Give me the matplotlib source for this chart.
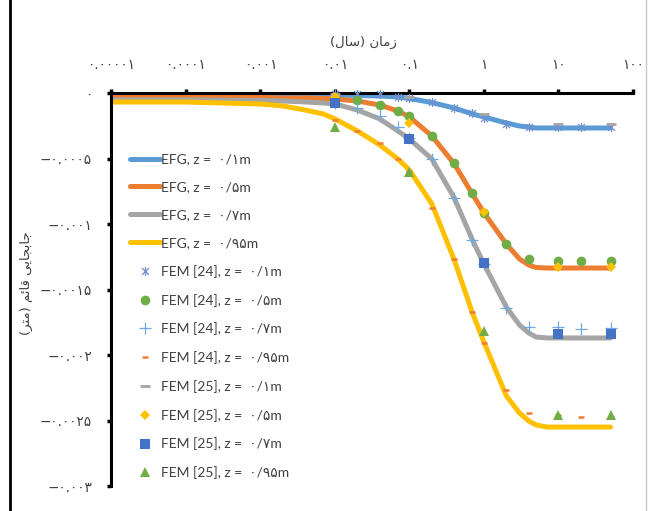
import numpy as np
import matplotlib
matplotlib.use("Agg")
import matplotlib.pyplot as plt
from matplotlib.path import Path
from matplotlib.lines import Line2D

plt.rcParams['font.family'] = ['Lato', 'DejaVu Sans']

# زمان (سال) -- EFG curves
t_efg = [1e-5, 1e-4, 1e-3, 0.002, 0.004, 0.007, 0.01, 0.02, 0.04, 0.07, 0.1,
         0.2, 0.4, 0.7, 1, 2, 3, 4, 5, 7, 10, 20, 50]
efg_01 = [-0.000015, -0.000015, -0.000015, -0.000015, -0.000015, -0.000015, -0.000015,
          -0.000019, -0.000023, -0.00003, -0.000042, -0.000073, -0.000115, -0.00016,
          -0.000183, -0.000229, -0.000252, -0.00026, -0.000267, -0.000267, -0.000267,
          -0.000267, -0.000267]
efg_05 = [-0.000034, -0.000034, -0.000034, -0.000038, -0.000038, -0.000042, -0.000046,
          -0.000061, -0.000092, -0.000137, -0.000183, -0.000328, -0.000542, -0.000771,
          -0.000916, -0.001153, -0.001267, -0.001313, -0.001332, -0.001336, -0.001336,
          -0.001336, -0.001336]
efg_07 = [-0.000053, -0.000053, -0.000057, -0.000061, -0.000069, -0.000076, -0.000084,
          -0.00013, -0.000198, -0.00029, -0.000351, -0.000504, -0.000802, -0.001122,
          -0.001305, -0.001634, -0.001771, -0.001832, -0.001863, -0.00187, -0.00187,
          -0.00187, -0.00187]
efg_095 = [-0.000069, -0.000069, -0.000084, -0.000099, -0.00013, -0.00016, -0.000198,
           -0.00029, -0.000397, -0.000504, -0.000588, -0.000847, -0.001275, -0.001679,
           -0.001901, -0.002313, -0.002443, -0.002504, -0.002534, -0.00255, -0.00255,
           -0.00255, -0.00255]

# FEM [24]
t_f24 = [0.01, 0.02, 0.04, 0.07, 0.1, 0.2, 0.4, 0.7, 1, 2, 4, 10, 20, 50]
f24_01 = [-0.000005, -0.000005, -0.000005, -0.00003, -0.000038, -0.000069, -0.000115,
          -0.000153, -0.000191, -0.000237, -0.00026, -0.00026, -0.00026, -0.00026]
f24_05 = [-0.00004, -0.000053, -0.000092, -0.000134, -0.000179, -0.000328, -0.000538,
          -0.000763, -0.000916, -0.00115, -0.00127, -0.00128, -0.00128, -0.00128]
f24_07 = [-0.000076, -0.000115, -0.000176, -0.00026, -0.000344, -0.000504, -0.000802,
          -0.001122, -0.001305, -0.001641, -0.001786, -0.001786, -0.0018, -0.001794]
f24_095 = [-0.000206, -0.00029, -0.000385, -0.000504, -0.000596, -0.00088, -0.00127,
           -0.00167, -0.00191, -0.00227, -0.00244, -0.00246, -0.00247, -0.00247]

# FEM [25]
t_f25 = [0.01, 0.1, 1, 10, 50]
f25_01 = [-0.000005, -0.00003, -0.00016, -0.000237, -0.000237]
f25_05 = [-0.00003, -0.000229, -0.000908, -0.00133, -0.00133]
f25_07 = [-0.000076, -0.000351, -0.0013, -0.00184, -0.00184]
f25_095 = [-0.00026, -0.000603, -0.00182, -0.00246, -0.00246]

x_ticks = [1e-5, 1e-4, 1e-3, 1e-2, 1e-1, 1, 10, 100]
x_labels = ["۰.۰۰۰۰۱", "۰.۰۰۰۱", "۰.۰۰۱", "۰.۰۱", "۰.۱", "۱", "۱۰", "۱۰۰"]
y_ticks = [-0.003, -0.0025, -0.002, -0.0015, -0.001, -0.0005, 0]
y_labels = ["−۰.۰۰۳", "−۰.۰۰۲۵", "−۰.۰۰۲", "−۰.۰۰۱۵", "−۰.۰۰۱", "−۰.۰۰۰۵", "۰"]

z_labels = ["۰/۱m", "۰/۵m", "۰/۷m", "۰/۹۵m"]

# presentation forms, visual order (no shaping in matplotlib)
title_txt = "(ﻝﺎﺳ) ﻥﺎﻣﺯ"
ylabel_txt = "(ﺮﺘﻣ) ﻢﺋﺎﻗ ﻰﻳﺎﺠﺑﺎﺟ"

star = Path([(-1, -1), (1, 1), (-1, 1), (1, -1), (0, -1.3), (0, 1.3)],
            [Path.MOVETO, Path.LINETO] * 3)

fig = plt.figure(figsize=(6.53, 5.11), dpi=100)
ax = fig.add_axes([0.1707, 0.0489, 0.7986, 0.7691])

lw = 3.6
line_kw = dict(lw=lw, solid_capstyle='round', solid_joinstyle='round')
ax.plot(t_efg, efg_01, color='#5B9BD5', label="EFG, z =  " + z_labels[0], **line_kw)
ax.plot(t_efg, efg_05, color='#ED7D31', label="EFG, z =  " + z_labels[1], **line_kw)
ax.plot(t_efg, efg_07, color='#A5A5A5', label="EFG, z =  " + z_labels[2], **line_kw)
ax.plot(t_efg, efg_095, color='#FFC000', label="EFG, z =  " + z_labels[3], **line_kw)

mk = dict(linestyle='none', clip_on=False, zorder=4)
ax.plot(t_f24, f24_01, marker=star, ms=6.5, mew=0.9, color='#6F8FD0', fillstyle='none',
        label="FEM [24], z =  " + z_labels[0], **mk)
ax.plot(t_f24, f24_05, marker='o', ms=7, color='#70AD47', mew=0,
        label="FEM [24], z =  " + z_labels[1], **mk)
ax.plot(t_f24, f24_07, marker='+', ms=8.5, mew=0.9, color='#6FA8DC',
        label="FEM [24], z =  " + z_labels[2], **mk)
ax.plot(t_f24, f24_095, marker='_', ms=5, mew=1.8, color='#ED7D31',
        label="FEM [24], z =  " + z_labels[3], **mk)
ax.plot(t_f25, f25_01, marker='_', ms=7, mew=2, color='#A5A5A5',
        label="FEM [25], z =  " + z_labels[0], **mk)
ax.plot(t_f25, f25_05, marker='D', ms=5.5, color='#FFC000', mew=0,
        label="FEM [25], z =  " + z_labels[1], **mk)
ax.plot(t_f25, f25_07, marker='s', ms=6.5, color='#4472C4', mew=0,
        label="FEM [25], z =  " + z_labels[2], **mk)
ax.plot(t_f25, f25_095, marker='^', ms=7, color='#70AD47', mew=0,
        label="FEM [25], z =  " + z_labels[3], **mk)

ax.set_xscale('log')
ax.set_xlim(1e-5, 100)
ax.set_ylim(-0.003, 0)
ax.xaxis.tick_top()
ax.set_xticks(x_ticks)
ax.set_xticklabels(x_labels, fontsize=9.8, family='DejaVu Sans')
ax.xaxis.set_minor_locator(matplotlib.ticker.NullLocator())
ax.set_yticks(y_ticks)
ax.set_yticklabels(y_labels, fontsize=9.8, family='DejaVu Sans')

for s in ['right', 'bottom']:
    ax.spines[s].set_visible(False)
for s in ['top', 'left']:
    ax.spines[s].set_linewidth(2.2)
    ax.spines[s].set_zorder(3)
ax.tick_params(axis='x', direction='out', length=3, width=2.5, pad=12, colors='black')
ax.tick_params(axis='y', direction='out', length=3, width=2.5, pad=11, colors='black')
for lab in ax.get_xticklabels() + ax.get_yticklabels():
    lab.set_color('#404040')

leg = ax.legend(loc='upper left', bbox_to_anchor=(0.035, 0.846), frameon=False,
                fontsize=10, handlelength=2.16, handletextpad=0.1, labelspacing=1.14,
                borderpad=0, borderaxespad=0, markerscale=1.0)
for txt in leg.get_texts():
    txt.set_color('#404040')

fig.text(363 / 653, 1 - 42 / 511, title_txt, ha='center', va='center',
         fontsize=9.5, color='#404040', family='DejaVu Sans')
fig.text(26 / 653, 1 - 283 / 511, ylabel_txt, ha='center', va='center', rotation=90,
         fontsize=9.5, color='#404040', family='DejaVu Sans')

fig.add_artist(Line2D([10 / 653, 10 / 653], [0, 1], transform=fig.transFigure,
                      color='black', lw=2))
fig.add_artist(Line2D([646 / 653, 646 / 653], [0, 1], transform=fig.transFigure,
                      color='#C8C8C8', lw=1))

fig.savefig('out.png', dpi=100)
